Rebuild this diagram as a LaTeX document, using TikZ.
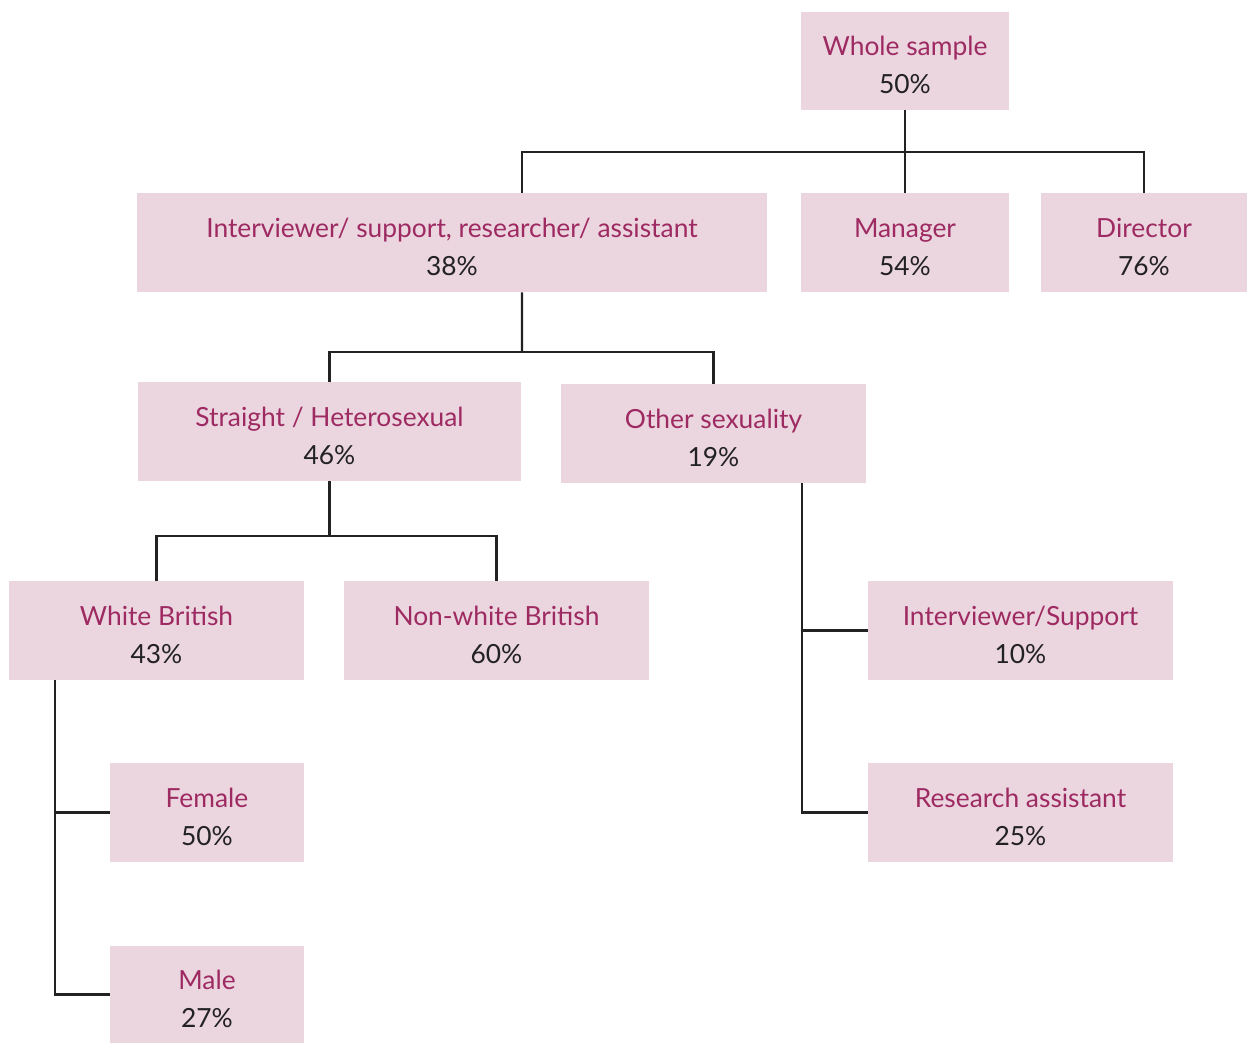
\documentclass[tikz,border=0pt]{standalone}
\usepackage{fontspec}
\setmainfont{Lato}
\usepackage{tikz}
\usetikzlibrary{positioning}
\definecolor{boxpink}{HTML}{EBD5DF}
\definecolor{titlered}{HTML}{9E2A62}
\definecolor{linegray}{HTML}{222222}
\newcommand{\grouphead}[1]{{\color{titlered}\rule{0pt}{0.56cm}#1}}

\begin{document}
\begin{tikzpicture}[
		group/.style={rectangle, fill=boxpink, text=linegray, align=center,
			minimum height=1.98cm, inner sep=0pt,
			font=\fontsize{15}{21.6}\selectfont},
		branch/.style={draw=linegray, line width=1.3pt}
	]
	\useasboundingbox (0,0) rectangle (24.94,-20.88);
	% top level
	\node[group, minimum width=4.16cm, minimum height=1.96cm] (whole) at (18.10,-1.22) {\grouphead{Whole sample}\\50\%};
	\node[group, minimum width=12.6cm] (role) at (9.04,-4.85) {\grouphead{Interviewer/ support, researcher/ assistant}\\38\%};
	\node[group, minimum width=4.16cm] (manager) at (18.10,-4.85) {\grouphead{Manager}\\54\%};
	\node[group, minimum width=4.12cm] (director) at (22.88,-4.85) {\grouphead{Director}\\76\%};
	% sexuality
	\node[group, minimum width=7.66cm] (straight) at (6.59,-8.63) {\grouphead{Straight / Heterosexual}\\46\%};
	\node[group, minimum width=6.1cm] (other) at (14.27,-8.67) {\grouphead{Other sexuality}\\19\%};
	% ethnicity
	\node[group, minimum width=5.9cm] (white) at (3.13,-12.61) {\grouphead{White British}\\43\%};
	\node[group, minimum width=6.1cm] (nonwhite) at (9.93,-12.61) {\grouphead{Non-white British}\\60\%};
	\node[group, minimum width=6.1cm] (intsup) at (20.41,-12.61) {\grouphead{Interviewer/Support}\\10\%};
	\node[group, minimum width=6.1cm] (research) at (20.41,-16.25) {\grouphead{Research assistant}\\25\%};
	% gender
	\node[group, minimum width=3.88cm] (female) at (4.14,-16.25) {\grouphead{Female}\\50\%};
	\node[group, minimum width=3.88cm, minimum height=1.94cm] (male) at (4.14,-19.89) {\grouphead{Male}\\27\%};

	\coordinate (bus1) at (18.10,-3.04);
	\coordinate (bus2) at (10.44,-7.04);
	\coordinate (bus3) at (6.59,-10.72);

	\draw[branch] (whole.south) -- (manager.north);
	\draw[branch] ([xshift=1.4cm]role.north) |- (bus1) -| (director.north);
	\draw[branch] ([xshift=1.4cm]role.south) -- (bus2);
	\draw[branch] (straight.north) |- (bus2) -| (other.north);
	\draw[branch] (straight.south) -- (bus3);
	\draw[branch] (white.north) |- (bus3) -| (nonwhite.north);
	\draw[branch] ([xshift=1.77cm]other.south) |- (intsup.west);
	\draw[branch] ([xshift=1.77cm]other.south) |- (research.west);
	\draw[branch] ([xshift=-2.03cm]white.south) |- (female.west);
	\draw[branch] ([xshift=-2.03cm]white.south) |- (male.west);
\end{tikzpicture}
\end{document}
